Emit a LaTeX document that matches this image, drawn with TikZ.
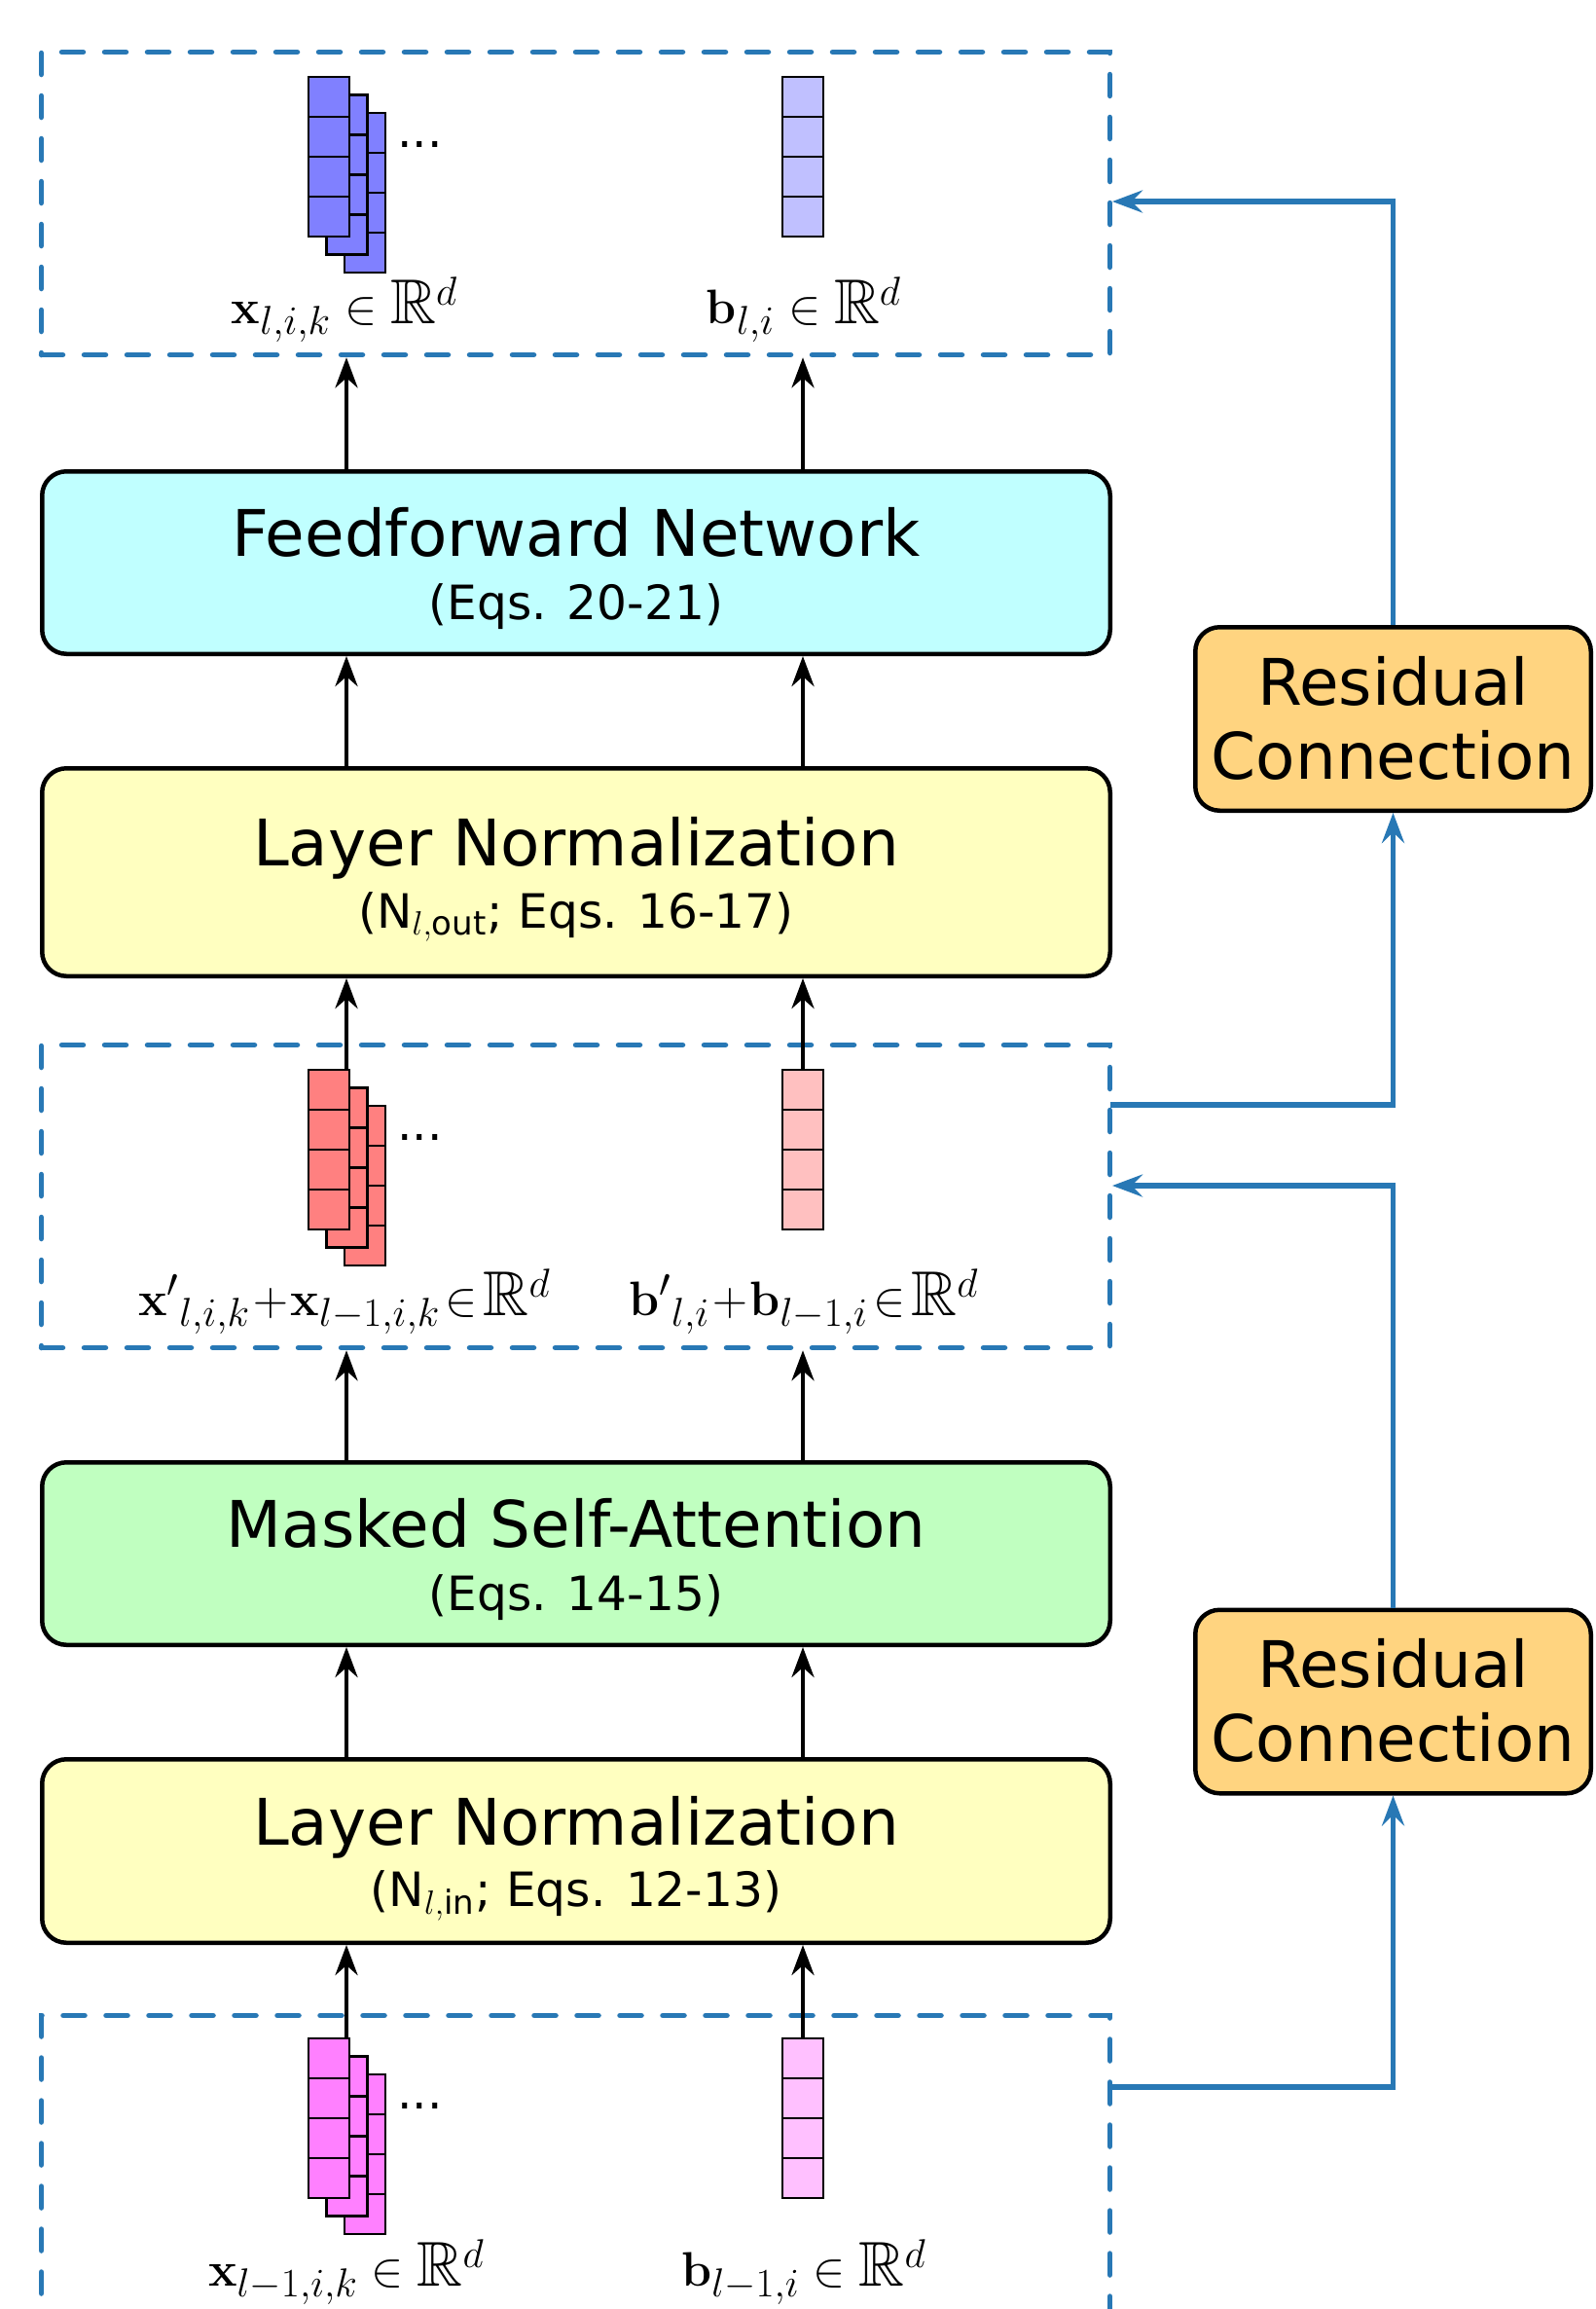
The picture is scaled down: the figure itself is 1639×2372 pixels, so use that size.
\documentclass[tikz,border=0pt]{standalone}
\usepackage{amsmath,amssymb}
\usepackage[no-math]{fontspec}
\setmainfont{DejaVu Sans}
\usetikzlibrary{arrows.meta,calc}
\definecolor{tabblue}{HTML}{2878B5}
\definecolor{ffcol}{HTML}{C0FFFF}
\definecolor{lncol}{HTML}{FFFFC0}
\definecolor{msacol}{HTML}{C0FFC0}
\definecolor{rescol}{HTML}{FFD480}
\definecolor{xtop}{HTML}{8080FF}
\definecolor{btop}{HTML}{C0C0FF}
\definecolor{xmid}{HTML}{FF8080}
\definecolor{bmid}{HTML}{FFC0C0}
\definecolor{xbot}{HTML}{FF80FF}
\definecolor{bbot}{HTML}{FFC0FF}
\newcommand{\titlefont}{\fontsize{33}{40}\selectfont}
\newcommand{\subfont}{\fontsize{24.3}{30}\selectfont}
\newcommand{\mathfont}{\fontsize{32.5}{39}\selectfont}
\tikzset{
  blk/.style={draw=black, line width=2.25pt, rounded corners=12.5pt, minimum width=548.75pt, inner sep=0pt},
  resbox/.style={draw=black, line width=2.25pt, rounded corners=12.5pt, fill=rescol, minimum width=203.25pt, minimum height=94.25pt, inner sep=0pt},
  dbox/.style={draw=tabblue, line width=2.75pt, line cap=round, dash pattern=on 11pt off 11pt, minimum width=549pt, minimum height=155.5pt, inner sep=0pt},
  dline/.style={draw=tabblue, line width=2.75pt, line cap=round, dash pattern=on 11pt off 11pt},
  arr/.style={draw=black, line width=2.2pt, -{Stealth[length=15.5pt, width=11.5pt, inset=5pt]}},
  resarr/.style={draw=tabblue, line width=2.6pt, -{Stealth[length=15.5pt, width=11.5pt, inset=5.5pt]}},
  cell/.style={draw=black, line width=1.2pt},
  ttl/.style={anchor=base, inner sep=0pt, font=\titlefont},
  sub/.style={anchor=base, inner sep=0pt, font=\subfont},
  lab/.style={anchor=base, inner sep=0pt, font=\mathfont},
  dots/.style={anchor=base west, inner sep=0pt, font=\subfont},
}
\newcommand{\vstack}[3]{% #1 = top y, #2 = x colour, #3 = b colour
  \foreach \s in {2,1,0}{
    \foreach \c in {0,1,2,3}{
      \draw[cell, fill=#2] ({317+18.5*\s}, {#1+18.5*\s+41*\c}) rectangle ++(42,41);
    }
  }
  \foreach \c in {0,1,2,3}{
    \draw[cell, fill=#3] (804, {#1+41*\c}) rectangle ++(42,41);
  }
}
\begin{document}
\begin{tikzpicture}[x=0.5pt,y=-0.5pt]
\useasboundingbox[fill=white] (0,0) rectangle (1639,2372);

% column coordinates
\coordinate (cx) at (356,0);
\coordinate (cb) at (825,0);

% ---------- dashed groups ----------
\node[dbox] (outtop) at (591.5,209) {};
\node[dbox] (outmid) at (591.5,1229) {};
\coordinate (bl) at (42.5,2400);
\coordinate (btl) at (42.5,2070.5);
\coordinate (btr) at (1140.5,2070.5);
\coordinate (br) at (1140.5,2400);
\draw[dline] (bl) -- (btl) -- (btr) -- (br);

% ---------- vector stacks ----------
\vstack{79}{xtop}{btop}
\vstack{1099}{xmid}{bmid}
\vstack{2094}{xbot}{bbot}
\node[dots] (d1) at (408,151) {...};
\node[dots] (d2) at (408,1171) {...};
\node[dots] (d3) at (408,2166) {...};

% ---------- labels ----------
\node[lab] (l1) at (354,332) {$\mathbf{x}_{l,i,k} \in \mathbb{R}^d$};
\node[lab] (l2) at (826,332) {$\mathbf{b}_{l,i} \in \mathbb{R}^d$};
\node[lab] (l3) at (354,1351) {${\mathbf{x}'}_{l,i,k}\!+\!\mathbf{x}_{l-1,i,k}\!\in\!\mathbb{R}^d$};
\node[lab] (l4) at (826,1351) {${\mathbf{b}'}_{l,i}\!+\!\mathbf{b}_{l-1,i}\!\in\!\mathbb{R}^d$};
\node[lab] (l5) at (356,2348) {$\mathbf{x}_{l-1,i,k} \in \mathbb{R}^d$};
\node[lab] (l6) at (826,2348) {$\mathbf{b}_{l-1,i} \in \mathbb{R}^d$};

% ---------- blocks ----------
\node[blk, fill=ffcol, minimum height=93.75pt] (ff) at (592,578) {};
\node[ttl] (ffa) at (592,571) {Feedforward Network};
\node[sub] (ffb) at (592,636) {(Eqs. 20-21)};

\node[blk, fill=lncol, minimum height=106.75pt] (lnout) at (592,896) {};
\node[ttl] (lnouta) at (592,889) {Layer Normalization};
\node[sub] (lnoutb) at (592,953) {(N$_{l,\text{out}}$; Eqs. 16-17)};

\node[blk, fill=msacol, minimum height=93.75pt] (msa) at (592,1596) {};
\node[ttl] (msaa) at (592,1589) {Masked Self-Attention};
\node[sub] (msab) at (592,1654) {(Eqs. 14-15)};

\node[blk, fill=lncol, minimum height=94.25pt] (lnin) at (592,1901.5) {};
\node[ttl] (lnina) at (592,1895) {Layer Normalization};
\node[sub] (lninb) at (592,1958) {(N$_{l,\text{in}}$; Eqs. 12-13)};

\node[resbox] (r1) at (1431.5,738.5) {};
\node[ttl] (r1a) at (1431.5,724) {Residual};
\node[ttl] (r1b) at (1431.5,800) {Connection};

\node[resbox] (r2) at (1431.5,1748) {};
\node[ttl] (r2a) at (1431.5,1733.5) {Residual};
\node[ttl] (r2b) at (1431.5,1809.5) {Connection};

% ---------- black flow arrows ----------
\coordinate (s3x) at (356,2094);
\coordinate (s3b) at (825,2094);
\coordinate (s2x) at (356,1099);
\coordinate (s2b) at (825,1099);
\draw[arr] (s3x) -- (lnin.south -| cx);
\draw[arr] (s3b) -- (lnin.south -| cb);
\draw[arr] (lnin.north -| cx) -- (msa.south -| cx);
\draw[arr] (lnin.north -| cb) -- (msa.south -| cb);
\draw[arr] (msa.north -| cx) -- (outmid.south -| cx);
\draw[arr] (msa.north -| cb) -- (outmid.south -| cb);
\draw[arr] (s2x) -- (lnout.south -| cx);
\draw[arr] (s2b) -- (lnout.south -| cb);
\draw[arr] (lnout.north -| cx) -- (ff.south -| cx);
\draw[arr] (lnout.north -| cb) -- (ff.south -| cb);
\draw[arr] (ff.north -| cx) -- (outtop.south -| cx);
\draw[arr] (ff.north -| cb) -- (outtop.south -| cb);

% ---------- residual connections ----------
\coordinate (tin) at (1143,207);
\coordinate (mout) at (1140.5,1135);
\coordinate (min) at (1143,1218);
\coordinate (bout) at (1140.5,2144);
\draw[resarr] (r1.north) |- (tin);
\draw[resarr] (mout) -| (r1.south);
\draw[resarr] (r2.north) |- (min);
\draw[resarr] (bout) -| (r2.south);
\end{tikzpicture}
\end{document}
